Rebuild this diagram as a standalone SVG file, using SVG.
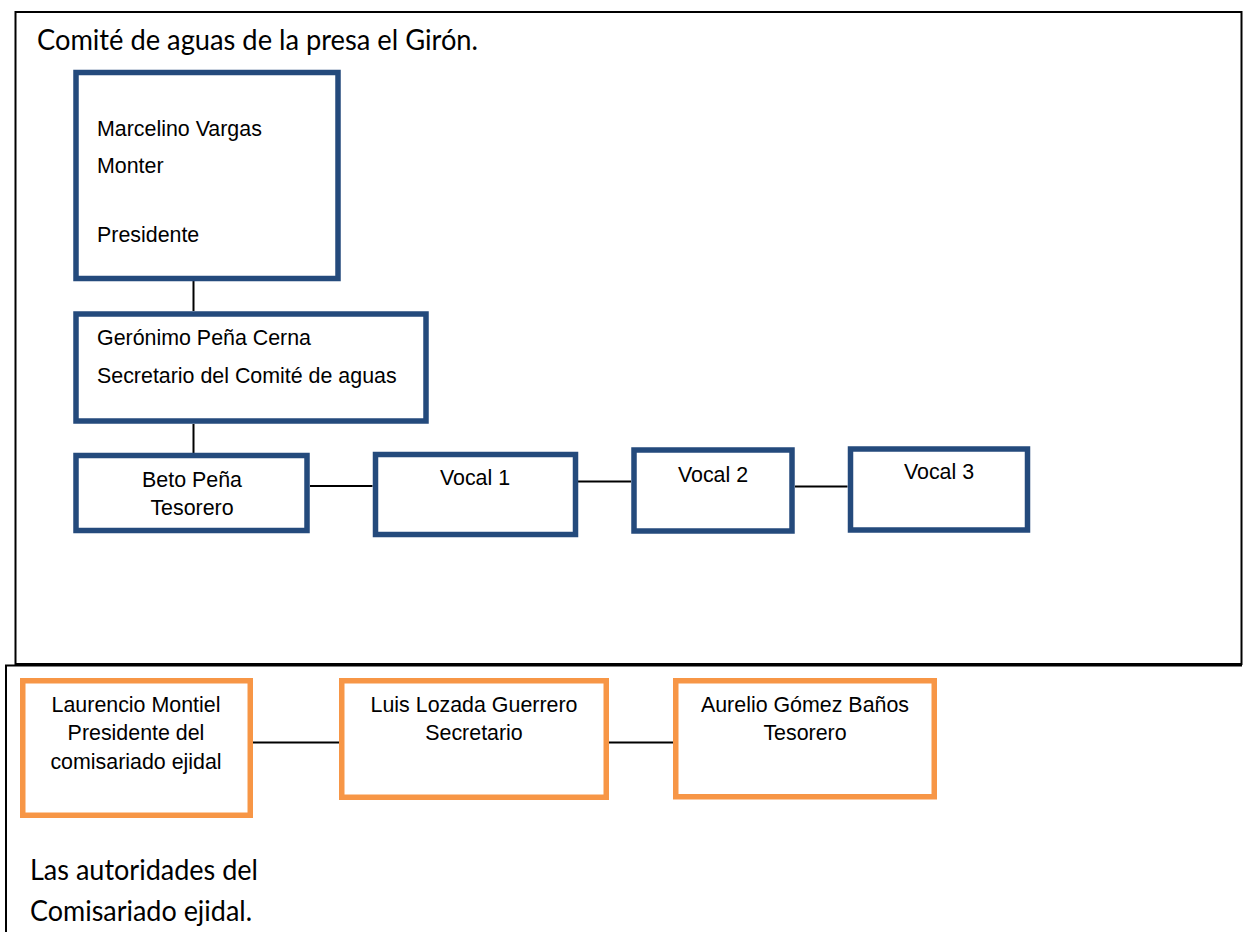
<svg xmlns="http://www.w3.org/2000/svg" width="1243" height="932" viewBox="0 0 1243 932">
<style>
.frame{fill:none;stroke:#000;stroke-width:2}
.bbox{fill:#fff;stroke:#244a7c;stroke-width:5.5}
.obox{fill:#fff;stroke:#f79646;stroke-width:5.5}
.conn{stroke:#000;stroke-width:2;fill:none}
.t{font-family:"Liberation Sans",Arial,sans-serif;font-size:21.4px;fill:#000}
.c{text-anchor:middle}
.h{font-family:Lato,"Open Sans",sans-serif;font-size:29px;fill:#000}
</style>
<rect width="1243" height="932" fill="#fff"/>
<g id="frames">
<rect class="frame" x="15.5" y="12" width="1226" height="652"/>
<path class="frame" d="M6,932 V665.5 H1242"/>
</g>
<text class="h" x="37" y="50" textLength="441" lengthAdjust="spacingAndGlyphs">Comité de aguas de la presa el Girón.</text>
<g id="connectors">
<line class="conn" x1="193.5" y1="281" x2="193.5" y2="311"/>
<line class="conn" x1="193.5" y1="424" x2="193.5" y2="453"/>
<line class="conn" x1="310" y1="486" x2="372.5" y2="486"/>
<line class="conn" x1="578" y1="481.5" x2="631" y2="481.5"/>
<line class="conn" x1="795" y1="486.5" x2="847.5" y2="486.5"/>
<line class="conn" x1="253" y1="742.5" x2="339" y2="742.5"/>
<line class="conn" x1="609" y1="742.5" x2="673" y2="742.5"/>
</g>
<g id="presidente">
<rect class="bbox" x="76" y="72.5" width="262" height="206"/>
<text class="t" x="97" y="136">Marcelino Vargas</text>
<text class="t" x="97" y="172.7">Monter</text>
<text class="t" x="97" y="242.3">Presidente</text>
</g>
<g id="secretario">
<rect class="bbox" x="76" y="314" width="350" height="107"/>
<text class="t" x="97" y="345">Gerónimo Peña Cerna</text>
<text class="t" x="97" y="382.7">Secretario del Comité de aguas</text>
</g>
<g id="tesorero">
<rect class="bbox" x="76" y="455.5" width="231" height="75"/>
<text class="t c" x="192" y="486.7">Beto Peña</text>
<text class="t c" x="192" y="515">Tesorero</text>
</g>
<g id="vocal1">
<rect class="bbox" x="375.5" y="454.5" width="200" height="80"/>
<text class="t c" x="475" y="485">Vocal 1</text>
</g>
<g id="vocal2">
<rect class="bbox" x="634" y="450" width="158" height="81"/>
<text class="t c" x="713" y="481.7">Vocal 2</text>
</g>
<g id="vocal3">
<rect class="bbox" x="850.5" y="449" width="177" height="81"/>
<text class="t c" x="939" y="479.3">Vocal 3</text>
</g>
<g id="comisariado-presidente">
<rect class="obox" x="22.75" y="680.75" width="227.5" height="134.5"/>
<text class="t c" x="136" y="711.7">Laurencio Montiel</text>
<text class="t c" x="136" y="740">Presidente del</text>
<text class="t c" x="136" y="768.5">comisariado ejidal</text>
</g>
<g id="comisariado-secretario">
<rect class="obox" x="341.75" y="680.75" width="264.5" height="116.5"/>
<text class="t c" x="474" y="711.7">Luis Lozada Guerrero</text>
<text class="t c" x="474" y="740">Secretario</text>
</g>
<g id="comisariado-tesorero">
<rect class="obox" x="675.75" y="680.75" width="258.5" height="116"/>
<text class="t c" x="805" y="711.7">Aurelio Gómez Baños</text>
<text class="t c" x="805" y="740">Tesorero</text>
</g>
<text class="h" x="30" y="880" textLength="228" lengthAdjust="spacingAndGlyphs">Las autoridades del</text>
<text class="h" x="30" y="921" textLength="222" lengthAdjust="spacingAndGlyphs">Comisariado ejidal.</text>
</svg>
